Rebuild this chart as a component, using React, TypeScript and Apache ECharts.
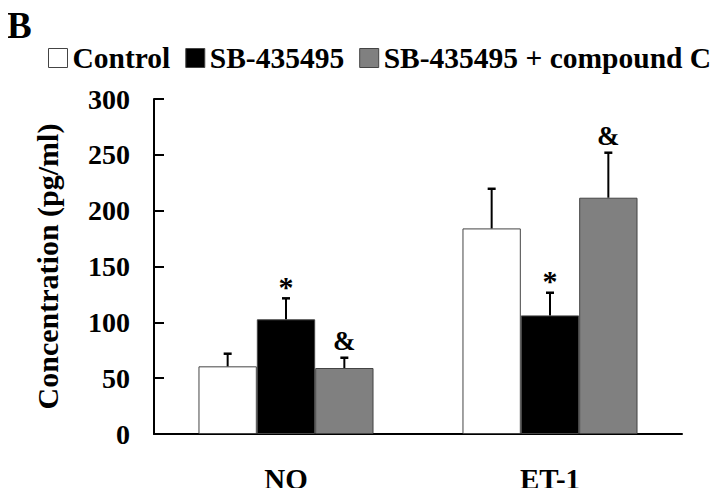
import React, { useEffect, useRef } from "react";
import * as echarts from "echarts";

const categories = ["NO", "ET-1"];
const seriesNames = ["Control", "SB-435495", "SB-435495 + compound C"];
const controlValues = [60.6, 184.1];
const sbValues = [102.7, 106.2];
const sbcValues = [59.1, 211.6];
const controlErrors = [11.3, 35.5];
const sbErrors = [18.8, 20.3];
const sbcErrors = [9.2, 40.3];
const controlMarks = ["", ""];
const sbMarks = ["*", "*"];
const sbcMarks = ["&", "&"];
const yTicks = [0, 50, 100, 150, 200, 250, 300];

const FONT = "'Liberation Serif', 'Times New Roman', serif";
const COLORS = ["#ffffff", "#000000", "#808080"];
const GAP = 0.337;

export default function App() {
  const ref = useRef<HTMLDivElement>(null);
  useEffect(() => {
    if (!ref.current) return;
    const chart = echarts.init(ref.current, undefined, { renderer: "svg" });
    const values = [controlValues, sbValues, sbcValues];
    const errors = [controlErrors, sbErrors, sbcErrors];
    const marks = [controlMarks, sbMarks, sbcMarks];
    const errData: number[][] = [];
    const errMarks: string[] = [];
    for (let g = 0; g < 3; g++) {
      for (let c = 0; c < categories.length; c++) {
        errData.push([c, g, values[g][c], errors[g][c]]);
        errMarks.push(marks[g][c]);
      }
    }
    chart.setOption({
      animation: false,
      backgroundColor: "#ffffff",
      textStyle: { fontFamily: FONT },
      graphic: [
        {
          type: "text",
          left: 7,
          top: 7,
          style: { text: "B", font: `bold 37px ${FONT}`, fill: "#000" },
        },
      ],
      legend: {
        left: 48,
        top: 43,
        width: 676,
        padding: 0,
        itemWidth: 19,
        itemHeight: 19,
        itemGap: 15,
        icon: "rect",
        data: seriesNames.map((n, i) => ({
          name: n,
          itemStyle: { color: COLORS[i], borderColor: "#444", borderWidth: 1 },
        })),
        textStyle: {
          fontFamily: FONT,
          fontWeight: "bold",
          fontSize: 29.5,
          color: "#000",
          padding: [0, 0, 0, 0],
        },
      },
      grid: { left: 154, right: 42, top: 99, bottom: 62, containLabel: false },
      xAxis: {
        type: "category",
        data: categories,
        axisLine: { lineStyle: { color: "#000", width: 2 } },
        axisTick: { inside: true, length: 9, lineStyle: { color: "#000", width: 2 } },
        axisLabel: {
          fontFamily: FONT,
          fontWeight: "bold",
          fontSize: 29,
          color: "#000",
          margin: 30,
        },
      },
      yAxis: {
        type: "value",
        min: yTicks[0],
        max: yTicks[yTicks.length - 1],
        interval: 50,
        name: "Concentration (pg/ml)",
        nameLocation: "middle",
        nameGap: 92,
        nameTextStyle: {
          fontFamily: FONT,
          fontWeight: "bold",
          fontSize: 30,
          color: "#000",
        },
        axisLine: { show: true, lineStyle: { color: "#000", width: 2 } },
        axisTick: { show: true, inside: true, length: 10, lineStyle: { color: "#000", width: 2 } },
        splitLine: { show: false },
        axisLabel: {
          fontFamily: FONT,
          fontWeight: "bold",
          fontSize: 28,
          color: "#000",
          margin: 24,
        },
      },
      series: [
        ...seriesNames.map((n, i) => ({
          name: n,
          type: "bar",
          data: values[i],
          barGap: "0%",
          barCategoryGap: `${GAP * 100}%`,
          itemStyle: { color: COLORS[i], borderColor: "#444", borderWidth: 1 },
        })),
        {
          type: "custom",
          z: 10,
          data: errData,
          renderItem: (params: any, api: any) => {
            const c = api.value(0);
            const g = api.value(1);
            const v = api.value(2);
            const e = api.value(3);
            const band = api.size([1, 0])[0];
            const bw = (band * (1 - GAP)) / 3;
            const cx = api.coord([c, 0])[0] + (g - 1) * bw;
            const yBar = api.coord([c, v])[1];
            const yTop = api.coord([c, v + e])[1];
            const mark = errMarks[params.dataIndex];
            const children: any[] = [
              {
                type: "line",
                shape: { x1: cx, y1: yBar, x2: cx, y2: yTop },
                style: { stroke: "#000", lineWidth: 2 },
              },
              {
                type: "line",
                shape: { x1: cx - 4, y1: yTop, x2: cx + 4, y2: yTop },
                style: { stroke: "#000", lineWidth: 2.5 },
              },
            ];
            if (mark) {
              children.push({
                type: "text",
                x: cx,
                y: yTop - (mark === "*" ? 12 : 17),
                style: {
                  text: mark,
                  font: `bold ${mark === "*" ? 30 : 27}px ${FONT}`,
                  fill: "#000",
                  align: "center",
                  verticalAlign: "middle",
                },
              });
            }
            return { type: "group", children };
          },
        },
      ],
    });
    return () => chart.dispose();
  }, []);
  return <div ref={ref} style={{ width: 724, height: 496, margin: -8 }} />;
}
